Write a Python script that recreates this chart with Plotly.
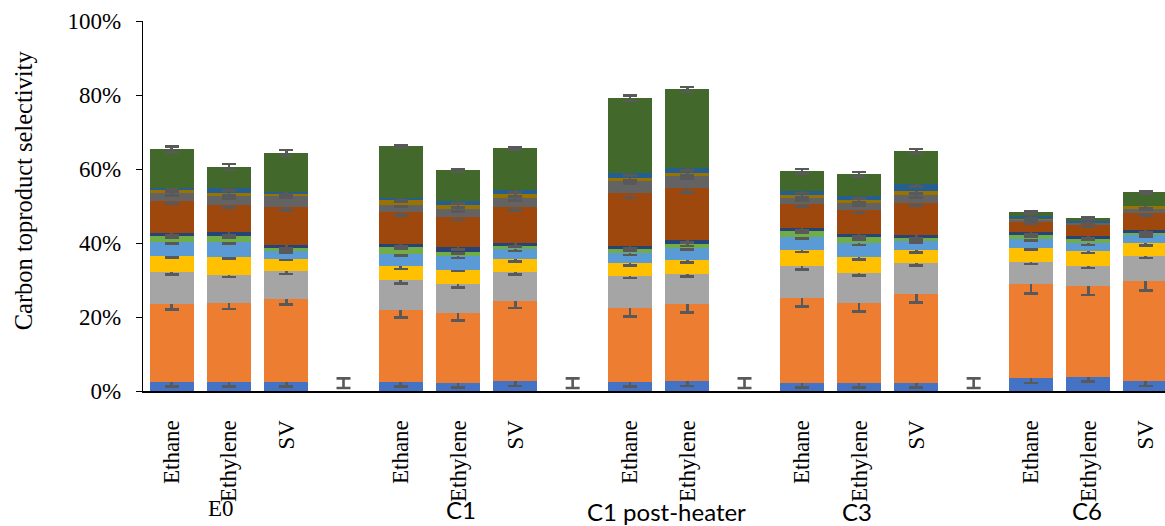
import plotly.graph_objects as go

# Bar slots along the x axis (gaps separate the reactor configurations)
tick_labels = ["Ethane", "Ethylene", "SV", "",
               "Ethane", "Ethylene", "SV", "",
               "Ethane", "Ethylene", "",
               "Ethane", "Ethylene", "SV", "",
               "Ethane", "Ethylene", "SV"]
group_labels = ["E0", "C1", "C1 post-heater", "C3", "C6"]
gap_slots = [3, 7, 10, 14]
y_ticks = [0, 20, 40, 60, 80, 100]
y_tick_text = ["0%", "20%", "40%", "60%", "80%", "100%"]

# Product selectivity per series (%), bottom to top of each stack
s1 = [2.4, 2.4, 2.4, None, 2.4, 2.1, 2.6, None, 2.4, 2.6, None, 2.1, 2.1, 2.1, None, 3.4, 3.7, 2.6]
s2 = [21.0, 21.3, 22.4, None, 19.4, 18.9, 21.7, None, 20.0, 20.8, None, 23.0, 21.6, 24.0, None, 25.4, 24.6, 27.0]
s3 = [8.7, 7.6, 7.5, None, 8.1, 7.8, 7.8, None, 8.6, 8.1, None, 8.6, 8.1, 8.4, None, 6.0, 5.4, 6.8]
s4 = [4.3, 4.8, 3.5, None, 3.8, 4.0, 3.5, None, 3.5, 3.8, None, 4.3, 4.3, 3.5, None, 3.8, 4.1, 3.5]
s5 = [3.8, 4.1, 2.1, None, 3.4, 3.6, 2.7, None, 2.7, 3.3, None, 3.5, 3.8, 2.5, None, 2.4, 2.1, 2.2]
s6 = [1.6, 1.6, 0.8, None, 1.7, 1.3, 1.1, None, 1.1, 1.0, None, 1.7, 1.6, 0.8, None, 1.1, 1.4, 0.8]
s7 = [0.8, 1.1, 0.8, None, 0.8, 1.1, 0.5, None, 0.8, 1.1, None, 0.8, 0.8, 0.8, None, 0.8, 0.5, 0.5]
s8 = [8.7, 7.5, 10.1, None, 8.7, 8.2, 9.7, None, 14.3, 14.1, None, 6.5, 6.5, 8.6, None, 2.7, 3.0, 4.6]
s9 = [2.1, 2.2, 3.3, None, 2.1, 2.1, 2.5, None, 3.3, 3.2, None, 1.6, 1.9, 2.2, None, 0.8, 0.8, 1.4]
s10 = [1.1, 0.8, 0.5, None, 1.4, 1.1, 1.1, None, 0.8, 0.8, None, 0.8, 0.8, 1.1, None, 0.3, 0.0, 0.5]
s11 = [0.5, 1.4, 0.3, None, 0.3, 1.1, 1.0, None, 1.3, 1.4, None, 1.1, 1.1, 1.9, None, 0.5, 0.3, 0.0]
s12 = [10.3, 5.7, 10.6, None, 14.0, 8.3, 11.4, None, 20.3, 21.3, None, 5.4, 6.0, 8.9, None, 1.1, 0.8, 3.8]

# Standard deviations (%) for each series
e1 = [1.2, 1.2, 1.2, None, 1.2, 1.2, 1.2, None, 1.2, 1.2, None, 1.2, 1.2, 1.2, None, 1.2, 1.2, 1.2]
e2 = [1.4, 1.5, 1.35, None, 2.0, 2.0, 1.9, None, 2.2, 2.2, None, 2.2, 2.2, 2.2, None, 2.4, 2.4, 2.4]
e3 = [0.6, 0.5, 0.7, None, 0.9, 0.8, 0.6, None, 0.5, 0.5, None, 0.8, 0.6, 0.6, None, 0.5, 0.5, 0.5]
e4 = [0.3, 0.3, 0.2, None, 0.7, 0.4, 0.6, None, 0.5, 0.5, None, 0.4, 0.6, 0.6, None, 0.4, 0.5, 0.5]
e5 = [0.3, 0.3, 0.4, None, 0.4, 0.4, 0.5, None, 0.4, 0.4, None, 0.3, 0.4, 0.4, None, 0.4, 0.4, 0.4]
e6 = [0.3, 0.3, 0.6, None, 0.4, 0.5, 0.5, None, 0.5, 0.4, None, 0.4, 0.5, 0.5, None, 0.4, 0.4, 0.4]
e7 = [0.6, 0.7, 0.8, None, 0.6, 0.6, 0.7, None, 0.6, 0.6, None, 0.5, 0.5, 0.7, None, 0.5, 0.5, 0.6]
e8 = [0.6, 0.8, 0.8, None, 0.9, 0.8, 0.8, None, 1.2, 1.2, None, 0.6, 0.7, 0.6, None, 0.4, 0.5, 0.5]
e9 = [0.6, 0.6, 0.7, None, 0.6, 0.6, 0.6, None, 0.6, 0.6, None, 0.6, 0.6, 0.6, None, 0.5, 0.5, 0.5]
e10 = [0.6, 0.6, 0.5, None, 0.6, 0.6, 0.6, None, 0.6, 0.6, None, 0.6, 0.6, 0.6, None, 0.5, 0.5, 0.5]
e11 = [0.6, 0.6, 0.6, None, 0.6, 0.6, 0.6, None, 0.6, 0.6, None, 0.5, 0.6, 0.6, None, 0.5, 0.5, 0.5]
e12 = [0.8, 0.8, 0.8, None, 0.4, 0.4, 0.4, None, 0.7, 0.7, None, 0.6, 0.6, 0.6, None, 0.3, 0.3, 0.3]

# Empty gap slots still carry a small error marker
gap_value = [2.1, 2.1, 2.1, 2.1]
gap_error = [1.3, 1.3, 1.3, 1.3]

series = [s1, s2, s3, s4, s5, s6, s7, s8, s9, s10, s11, s12]
errors = [e1, e2, e3, e4, e5, e6, e7, e8, e9, e10, e11, e12]
colors = ["#4472C4", "#ED7D31", "#A5A5A5", "#FFC000", "#5B9BD5", "#70AD47",
          "#264478", "#9E480E", "#636363", "#997300", "#255E91", "#43682B"]

ERR_COLOR = "#595959"
ERR_THICK = 2.6
ERR_CAP = 7
SERIF = "Liberation Serif, Times New Roman, serif"
SANS = "Lato, Carlito, Calibri, sans-serif"

x_pos = list(range(len(tick_labels)))

fig = go.Figure()
for i, (vals, errs, col) in enumerate(zip(series, errors, colors)):
    fig.add_trace(go.Bar(
        x=x_pos, y=vals, name=f"S{i + 1}",
        marker=dict(color=col, line=dict(width=0)),
        error_y=dict(type="data", array=errs, visible=True,
                     color=ERR_COLOR, thickness=ERR_THICK, width=ERR_CAP),
        showlegend=False,
    ))

fig.add_trace(go.Scatter(
    x=gap_slots, y=gap_value, mode="markers",
    marker=dict(opacity=0, size=1),
    error_y=dict(type="data", array=gap_error, visible=True,
                 color=ERR_COLOR, thickness=ERR_THICK, width=ERR_CAP),
    showlegend=False, hoverinfo="skip",
))

# Group captions below the tick labels: (x in slot units, y in paper units, font)
group_pos = [(0.86, -0.317, SERIF), (5.05, -0.3197, SANS), (8.64, -0.3254, SANS),
             (11.97, -0.3254, SANS), (15.98, -0.3224, SANS)]
for text, (gx, gy, fam) in zip(group_labels, group_pos):
    fig.add_annotation(x=gx, y=gy, xref="x", yref="paper", text=text,
                       showarrow=False, xanchor="center", yanchor="middle",
                       font=dict(family=fam, size=23 if fam == SERIF else 24, color="#000000"))

fig.add_annotation(x=-0.1174, y=0.5424, xref="paper", yref="paper",
                   text="Carbon toproduct selectivity", textangle=-90,
                   showarrow=False, xanchor="center", yanchor="middle",
                   font=dict(family=SERIF, size=24.5, color="#000000"))

fig.update_layout(
    width=1165, height=526,
    margin=dict(l=143, r=0, t=21, b=135, pad=0),
    barmode="stack", bargap=0.23,
    plot_bgcolor="white", paper_bgcolor="white",
    font=dict(family=SERIF, size=23, color="#000000"),
    xaxis=dict(
        range=[-0.5, 17.34], tickmode="array", tickvals=x_pos, ticktext=tick_labels,
        tickangle=-90, ticks="", showgrid=False, zeroline=False,
        showline=True, linecolor="#000000", linewidth=2,
        ticklabelstandoff=18,
        tickfont=dict(family=SERIF, size=23, color="#000000"),
    ),
    yaxis=dict(
        range=[0, 100], tickmode="array", tickvals=y_ticks, ticktext=y_tick_text,
        ticks="outside", ticklen=6, tickcolor="#000000", tickwidth=1,
        showgrid=False, zeroline=False,
        showline=True, linecolor="#000000", linewidth=1.3,
        ticklabelstandoff=10,
        tickfont=dict(family=SERIF, size=23, color="#000000"),
    ),
)

fig.write_html("out.html")
